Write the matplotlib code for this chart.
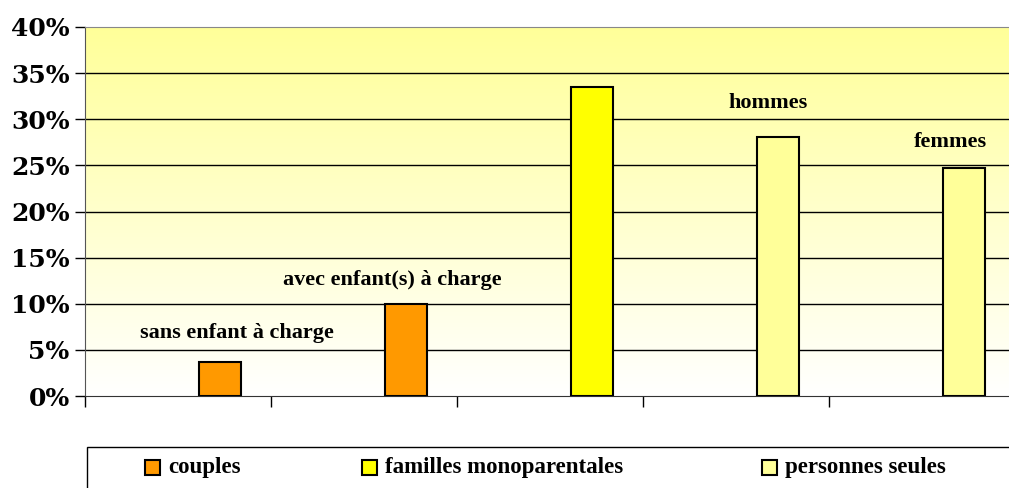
import matplotlib.pyplot as plt
import numpy as np
from matplotlib.colors import LinearSegmentedColormap
from matplotlib.patches import Rectangle

# data
bar_labels = ["sans enfant à charge", "avec enfant(s) à charge", "", "hommes", "femmes"]
values = [3.7, 10.0, 33.5, 28.1, 24.7]
groups = ["couples", "couples", "familles monoparentales", "personnes seules", "personnes seules"]
group_names = ["couples", "familles monoparentales", "personnes seules"]
group_colors = {"couples": "#FF9900", "familles monoparentales": "#FFFF00", "personnes seules": "#FFFF99"}
y_ticks = [0, 5, 10, 15, 20, 25, 30, 35, 40]

W, H = 1009, 488
fig = plt.figure(figsize=(W / 100, H / 100), dpi=100)
ax = fig.add_axes([85 / W, (H - 396) / H, 930 / W, 369 / H])

# gradient background
cmap = LinearSegmentedColormap.from_list("bg", ["#FFFFFF", "#FFFF99"])
grad = np.linspace(0, 1, 256).reshape(-1, 1)
ax.imshow(grad, cmap=cmap, origin="lower", aspect="auto",
          extent=[-0.5, 4.5, 0, 40], zorder=0)

for y in y_ticks[1:-1]:
    ax.axhline(y, color="black", lw=1, zorder=1)

x = np.arange(len(values))
offset = 42 / 186
ax.bar(x + offset, values, width=42 / 186,
       color=[group_colors[g] for g in groups], edgecolor="black", lw=1.5, zorder=3)

label_font = dict(family="Liberation Serif", weight="bold", size=16)
label_shift = [(12, 21), (-10, 17), (0, 0), (-7, 24), (-10, 19)]
for xi, v, lab, (dx, dy) in zip(x, values, bar_labels, label_shift):
    if lab:
        ax.annotate(lab, (xi + offset, v), xytext=(dx, dy), textcoords="offset points",
                    ha="center", va="center", **label_font)

ax.set_xlim(-0.5, 4.5)
ax.set_ylim(0, 40)
ax.set_yticks(y_ticks)
ax.set_yticklabels([f"{t}%" for t in y_ticks], family="DejaVu Serif", weight="bold", size=18)
ax.set_xticks(np.arange(-0.5, 4.6, 1))
ax.set_xticklabels([])
ax.tick_params(axis="y", direction="out", length=7, width=1, pad=4)
ax.tick_params(axis="x", direction="out", length=8, width=1)
ax.spines["top"].set_color("#888888")
ax.spines["right"].set_visible(False)
ax.spines["left"].set_color("#555555")
ax.spines["bottom"].set_color("#333333")

# legend box, drawn in figure pixels
fig.patches.append(Rectangle((87 / W, -0.05), 1.0, (H - 447) / H + 0.05,
                             transform=fig.transFigure, fill=False,
                             edgecolor="black", lw=1))
leg_x = [145, 362, 762]
for name, lx in zip(group_names, leg_x):
    fig.patches.append(Rectangle((lx / W, (H - 475) / H), 15 / W, 15 / H,
                                 transform=fig.transFigure,
                                 facecolor=group_colors[name], edgecolor="black", lw=1.5))
    fig.text((lx + 23) / W, (H - 468) / H, name, ha="left", va="center",
             family="Liberation Serif", weight="bold", size=16.5)

fig.savefig("out.png", dpi=100)
